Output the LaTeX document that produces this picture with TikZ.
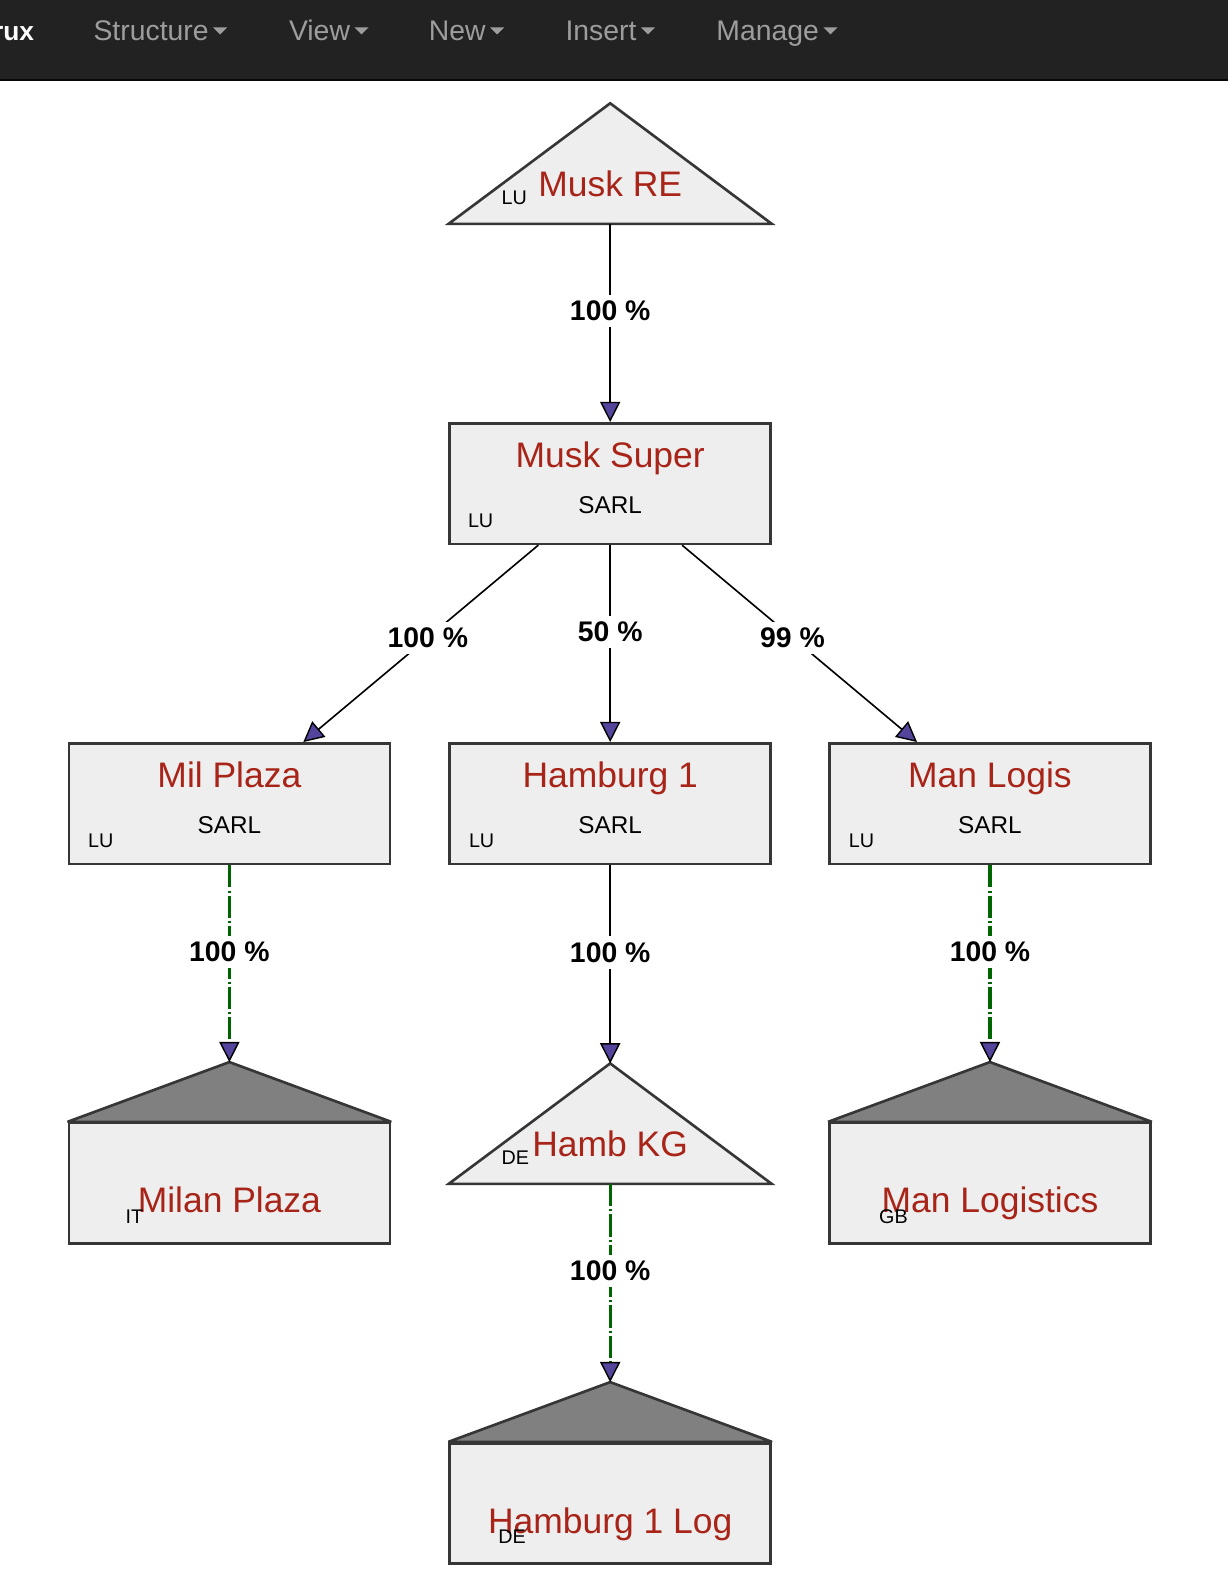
\documentclass[tikz,border=0pt]{standalone}
\usepackage{fontspec}
\setmainfont{Liberation Sans}
\usepackage{tikz}
\usetikzlibrary{arrows.meta}
\usetikzlibrary{positioning}

\definecolor{navbg}{HTML}{222222}
\definecolor{navline}{HTML}{080808}
\definecolor{navtext}{HTML}{9D9D9D}
\definecolor{boxfill}{HTML}{EEEEEE}
\definecolor{boxline}{HTML}{363636}
\definecolor{roofgray}{HTML}{808080}
\definecolor{namered}{RGB}{168,36,24}
\definecolor{tipblue}{RGB}{84,68,155}
\definecolor{holdgreen}{RGB}{0,100,0}

\tikzset{
	entity/.style={draw=boxline,line width=1.3pt,fill=boxfill,minimum width=158.5pt,minimum height=59.5pt,inner sep=0pt},
	tri/.style={draw=boxline,line width=1.3pt,fill=boxfill},
	roofed/.style={draw=boxline,line width=1.3pt,fill=roofgray,line join=bevel},
	ttl/.style={text=namered,font=\fontsize{17.5}{20}\selectfont,anchor=base,inner sep=0pt},
	legal/.style={font=\fontsize{12}{14}\selectfont,anchor=base,inner sep=0pt},
	ctry/.style={font=\fontsize{9.75}{11}\selectfont,anchor=base west,inner sep=0pt},
	pct/.style={fill=white,font=\bfseries\fontsize{14}{16}\selectfont,inner sep=3pt,pos=.44},
	own/.style={draw=black,line width=0.8pt,-{Triangle[length=10pt,width=10pt,color=black,fill=tipblue,line width=0.7pt]}},
	held/.style={own,draw=holdgreen,line width=1.5pt,dash pattern=on 11pt off 1.5pt on 1pt off 1.5pt},
	menu/.style={text=navtext,font=\fontsize{14}{16}\selectfont,anchor=base west,inner sep=0pt},
}

\begin{document}
\begin{tikzpicture}[x=0.5pt,y=-0.5pt]
	\useasboundingbox (0,0) rectangle (1213,1568);
	\fill[white] (0,0) rectangle (1213,1568);
	%%%%%%%%%%%%%%% menu bar
	\fill[navbg] (0,0) rectangle (1213,78);
	\fill[navline] (0,78) rectangle (1213,80);
	\node[menu,text=white,font=\bfseries\fontsize{13}{16}\selectfont,anchor=base east] (brand) at (34,40) {rux};
	\foreach \item/\xx in {Structure/92,View/285,New/423,Insert/558,Manage/707}{
		\node[menu] (m\item) at (\xx,40) {\item};
		\fill[navtext] ([xshift=2pt,yshift=6.5pt]m\item.base east) -- ++(14,0) -- ++(-7,7) -- cycle;
	}
	%%%%%%%%%%%%%%% Musk RE
	\coordinate (reApex) at (602.5,102);
	\coordinate (reBase) at (602.5,221);
	\draw[tri] (reApex) -- (443,221) -- (762,221) -- cycle;
	\node[ttl] (reName) at (602.5,194) {Musk RE};
	\node[ctry] (reCtry) at (495,202) {LU};
	%%%%%%%%%%%%%%% Musk Super
	\node[entity] (super) at (602.5,477.5) {};
	\node[ttl] (superName) at ([yshift=-22.5pt]super.north) {Musk Super};
	\node[legal] (superForm) at ([yshift=-45pt]super.north) {SARL};
	\node[ctry] (superCtry) at ([xshift=9.5pt,yshift=8.5pt]super.south west) {LU};
	%%%%%%%%%%%%%%% second row
	\foreach \id/\xx/\lbl in {mil/226.5/Mil Plaza,ham/602.5/Hamburg 1,man/977.5/Man Logis}{
		\node[entity] (\id) at (\xx,793.5) {};
		\node[ttl] (\id Name) at ([yshift=-22.5pt]\id.north) {\lbl};
		\node[legal] (\id Form) at ([yshift=-45pt]\id.north) {SARL};
		\node[ctry] (\id Ctry) at ([xshift=10pt,yshift=8.5pt]\id.south west) {LU};
	}
	%%%%%%%%%%%%%%% Hamb KG
	\coordinate (kgApex) at (602.5,1050);
	\coordinate (kgBase) at (602.5,1169);
	\draw[tri] (kgApex) -- (443,1169) -- (762,1169) -- cycle;
	\node[ttl] (kgName) at (602.5,1142) {Hamb KG};
	\node[ctry] (kgCtry) at (495,1150) {DE};
	%%%%%%%%%%%%%%% houses
	\foreach \id/\xx/\yy/\lbl/\cc/\dx in {milan/226.5/1168.5/Milan Plaza/IT/28.5,manl/977.5/1168.5/Man Logistics/GB/25,hlog/602.5/1484.5/Hamburg 1 Log/DE/24.5}{
		\node[entity] (\id) at (\xx,\yy) {};
		\coordinate (\id Top) at ([yshift=29.5pt]\id.north);
		\draw[roofed] (\id.north west) -- (\id Top) -- (\id.north east) -- cycle;
		\node[ttl] (\id Name) at ([yshift=-45pt]\id.north) {\lbl};
		\node[ctry] (\id Ctry) at ([xshift=\dx pt,yshift=-50pt]\id.north west) {\cc};
	}
	%%%%%%%%%%%%%%% holdings
	\draw[own] (reBase) -- node[pct]{100 \%} (super.north);
	\draw[own] ([xshift=-35.5pt]super.south) -- node[pct,pos=.47]{100 \%} ([xshift=36.5pt]mil.north);
	\draw[own] (super.south) -- node[pct]{50 \%} (ham.north);
	\draw[own] ([xshift=35.5pt]super.south) -- node[pct,pos=.47]{99 \%} ([xshift=-36pt]man.north);
	\draw[held] (mil.south) -- node[pct]{100 \%} (milanTop);
	\draw[own] (ham.south) -- node[pct]{100 \%} (kgApex);
	\draw[held] (man.south) -- node[pct]{100 \%} (manlTop);
	\draw[held] (kgBase) -- node[pct]{100 \%} (hlogTop);
\end{tikzpicture}
\end{document}
